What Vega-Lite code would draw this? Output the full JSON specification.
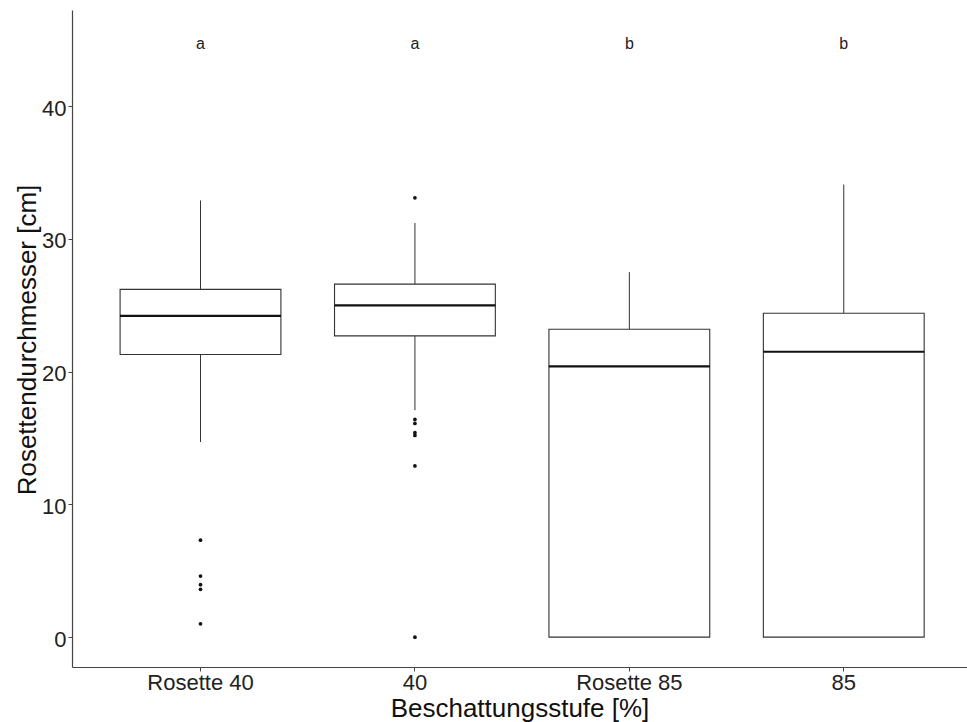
{
  "$schema": "https://vega.github.io/schema/vega-lite/v6.json",
  "width": 895,
  "height": 657,
  "autosize": {"type": "none"},
  "padding": {"left": 72, "top": 10, "right": 0, "bottom": 55},
  "background": "white",
  "config": {
    "view": {"stroke": null},
    "font": "Liberation Sans"
  },
  "datasets": {
    "boxes": [
      {"gruppe": "Rosette 40", "lo": 14.7, "q1": 21.3, "med": 24.2, "q3": 26.2, "hi": 32.9, "letter": "a"},
      {"gruppe": "40", "lo": 17.1, "q1": 22.7, "med": 25.0, "q3": 26.6, "hi": 31.2, "letter": "a"},
      {"gruppe": "Rosette 85", "lo": 0, "q1": 0, "med": 20.4, "q3": 23.2, "hi": 27.5, "letter": "b"},
      {"gruppe": "85", "lo": 0, "q1": 0, "med": 21.5, "q3": 24.4, "hi": 34.1, "letter": "b"}
    ],
    "outliers": [
      {"gruppe": "Rosette 40", "value": 7.3},
      {"gruppe": "Rosette 40", "value": 4.6},
      {"gruppe": "Rosette 40", "value": 3.95},
      {"gruppe": "Rosette 40", "value": 3.6},
      {"gruppe": "Rosette 40", "value": 1.0},
      {"gruppe": "40", "value": 33.1},
      {"gruppe": "40", "value": 16.4},
      {"gruppe": "40", "value": 16.1},
      {"gruppe": "40", "value": 15.4},
      {"gruppe": "40", "value": 15.2},
      {"gruppe": "40", "value": 12.9},
      {"gruppe": "40", "value": 0}
    ]
  },
  "encoding": {
    "x": {
      "field": "gruppe",
      "type": "nominal",
      "sort": ["Rosette 40", "40", "Rosette 85", "85"],
      "scale": {"paddingInner": 0.25, "paddingOuter": 0.212, "align": 0.529},
      "axis": {
        "title": "Beschattungsstufe [%]",
        "labelAngle": 0,
        "labelFontSize": 22,
        "labelColor": "#222222",
        "labelPadding": 1,
        "tickSize": 4,
        "tickColor": "#444444",
        "domainColor": "#444444",
        "domainWidth": 1.2,
        "titleFontSize": 26,
        "titleFontWeight": "normal",
        "titleColor": "#111111",
        "titleBaseline": "alphabetic",
        "titleY": 49.5,
        "grid": false
      }
    }
  },
  "layer": [
    {
      "data": {"name": "boxes"},
      "mark": {"type": "rule", "color": "#333333", "strokeWidth": 1},
      "encoding": {
        "y": {
          "field": "lo",
          "type": "quantitative",
          "scale": {"domain": [-2.25, 47.25], "nice": false, "zero": false},
          "axis": {
            "title": "Rosettendurchmesser [cm]",
            "values": [0, 10, 20, 30, 40],
            "labelFontSize": 22,
            "labelColor": "#222222",
            "labelPadding": 2,
            "labelOffset": 2,
            "tickSize": 4,
            "tickColor": "#444444",
            "domainColor": "#444444",
            "domainWidth": 1.2,
            "grid": false,
            "titleFontSize": 26,
            "titleFontWeight": "normal",
            "titleColor": "#111111",
            "titleAngle": -90,
            "titleBaseline": "alphabetic",
            "titleX": -37,
            "titleY": 329.5
          }
        },
        "y2": {"field": "hi"}
      }
    },
    {
      "data": {"name": "boxes"},
      "mark": {"type": "bar", "fill": "white", "stroke": "#333333", "strokeWidth": 1.1},
      "encoding": {
        "y": {"field": "q1", "type": "quantitative"},
        "y2": {"field": "q3"}
      }
    },
    {
      "data": {"name": "boxes"},
      "mark": {"type": "tick", "color": "#111111", "thickness": 2.2, "size": 161, "opacity": 1},
      "encoding": {
        "y": {"field": "med", "type": "quantitative"}
      }
    },
    {
      "data": {"name": "outliers"},
      "mark": {"type": "point", "filled": true, "color": "#111111", "size": 14, "opacity": 1},
      "encoding": {
        "y": {"field": "value", "type": "quantitative"}
      }
    },
    {
      "data": {"name": "boxes"},
      "mark": {"type": "text", "fontSize": 16, "color": "#222222", "baseline": "middle", "dy": 4},
      "encoding": {
        "y": {"datum": 45, "type": "quantitative"},
        "text": {"field": "letter"}
      }
    }
  ]
}
